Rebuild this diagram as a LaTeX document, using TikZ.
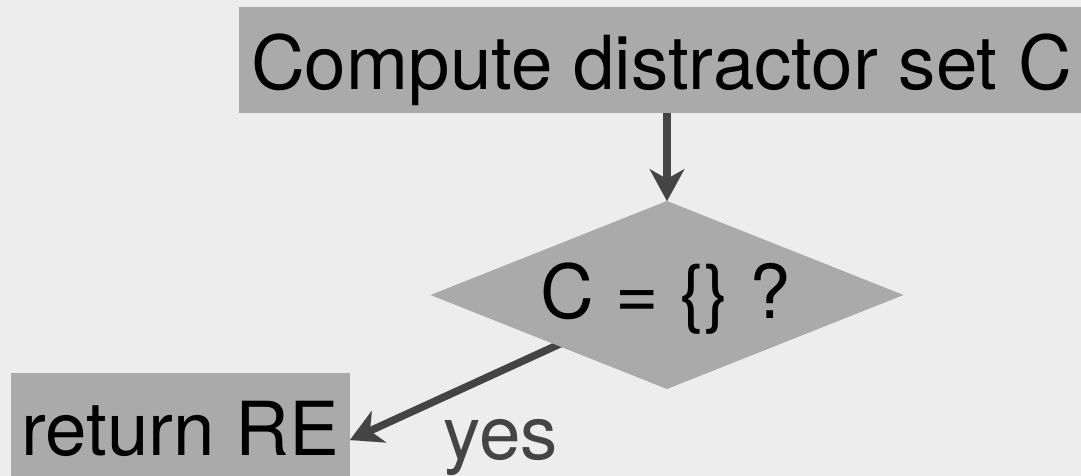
\documentclass[tikz,border=0pt]{standalone}
\usepackage{fontspec}
\setmainfont{TeX Gyre Heros}
\usetikzlibrary{shapes.geometric,arrows.meta}
\definecolor{bgc}{HTML}{EDEDED}
\definecolor{boxc}{HTML}{AAAAAA}
\definecolor{arrc}{HTML}{444444}
\pgfdeclarelayer{bglayer}
\pgfdeclarelayer{edgelayer}
\pgfsetlayers{bglayer,edgelayer,main}
\begin{document}
\begin{tikzpicture}[x=1pt,y=-1pt,
  bigtext/.style={font=\fontsize{74.5pt}{80pt}\selectfont},
  procbox/.style={fill=boxc, draw=none, inner sep=0pt, outer sep=0pt, bigtext, text=black},
  decision/.style={diamond, fill=boxc, draw=none, inner sep=0pt, outer sep=0pt,
                   minimum width=473pt, minimum height=188pt},
  flow/.style={draw=arrc, line width=7.5pt,
               -{Stealth[length=32pt,width=35pt,inset=10pt,line width=0.01pt,fill=arrc]}}]
\useasboundingbox (0,0) rectangle (1081,476);
\clip (0,0) rectangle (1081,476);
\begin{pgfonlayer}{bglayer}
  \fill[bgc] (0,0) rectangle (1081,476);
\end{pgfonlayer}

\node[procbox, anchor=north west, minimum width=845pt, minimum height=106pt,
      text height=80pt, text depth=20pt] (top) at (239,7) {Compute distractor set C};
\node[decision] (d) at (667,295) {};
\node[bigtext, inner sep=0pt, anchor=base] (dlabel) at (666,318) {C = \{\} ?};
\node[procbox, anchor=north west, minimum width=339pt, minimum height=134pt,
      text height=60pt, text depth=30pt] (r) at (11,373) {return RE};
\node[bigtext, text=arrc, inner sep=0pt, anchor=base] (yes) at (501,459) {yes};

\begin{pgfonlayer}{edgelayer}
  \draw[flow] (top.south -| d.north) -- (d.north);
  \draw[flow] (d.center) -- (r.east);
\end{pgfonlayer}
\end{tikzpicture}
\end{document}
